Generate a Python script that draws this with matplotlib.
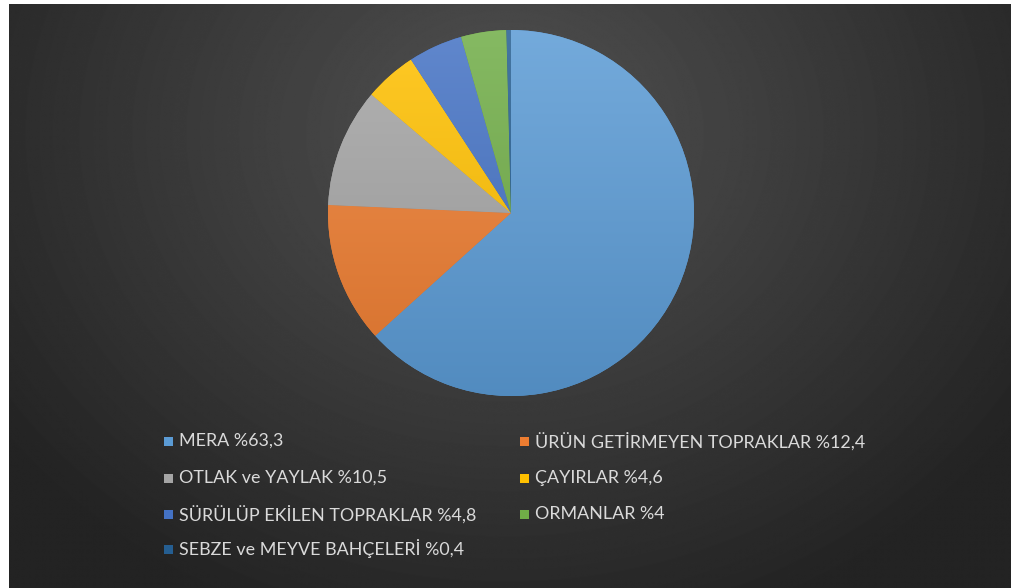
import numpy as np
import matplotlib.pyplot as plt
import matplotlib.colors as mcolors
from matplotlib.patches import Rectangle

labels = ['MERA %63,3', 'ÜRÜN GETİRMEYEN TOPRAKLAR %12,4', 'OTLAK ve YAYLAK %10,5',
          'ÇAYIRLAR %4,6', 'SÜRÜLÜP EKİLEN TOPRAKLAR %4,8', 'ORMANLAR %4',
          'SEBZE ve MEYVE BAHÇELERİ %0,4']
values = [63.3, 12.4, 10.5, 4.6, 4.8, 4.0, 0.4]
colors = ['#5B9BD5', '#ED7D31', '#A5A5A5', '#FFC000', '#4472C4', '#70AD47', '#255E91']

W, H = 1012, 588
fig = plt.figure(figsize=(W / 100, H / 100), dpi=100)
fig.patch.set_facecolor('white')
ax = fig.add_axes([0, 0, 1, 1])
ax.set_xlim(0, W)
ax.set_ylim(0, H)
ax.axis('off')

# dark radial background (white strip at left/top like the screenshot)
yy, xx = np.mgrid[0:H, 0:W]
r = np.sqrt(((xx - 500) / 620.0) ** 2 + ((yy - 130) / 520.0) ** 2)
shade = np.clip(0.32 - 0.18 * r, 0.14, 0.32)
ax.imshow(shade, cmap='gray', vmin=0, vmax=1, extent=(9, W, 0, H - 4),
          origin='upper', aspect='auto', zorder=0, interpolation='bilinear')

cx, cy, rad = 511, H - 213, 183
wedges, _ = ax.pie(values, colors=colors, startangle=90, counterclock=False,
                   center=(cx, cy), radius=rad, frame=False,
                   wedgeprops=dict(linewidth=0))
ax.set_xlim(0, W)
ax.set_ylim(0, H)
ax.set_aspect('auto')

# soft vertical gradient inside each slice
grad = np.linspace(0, 1, 256).reshape(-1, 1)
for w, c in zip(wedges, colors):
    base = np.array(mcolors.to_rgb(c))
    top = base + (1 - base) * 0.15
    bot = base * 0.9
    img = top * (1 - grad[..., None]) + bot * grad[..., None]
    img = np.repeat(img, 2, axis=1)
    im = ax.imshow(img, extent=(cx - rad, cx + rad, cy - rad, cy + rad),
                   origin='upper', aspect='auto', zorder=2)
    im.set_clip_path(w)
    w.set_zorder(1)

# legend, two columns, row-major order
col_x = [164, 520]
row_y = [441, 478, 514, 549]
for i, (lab, c) in enumerate(zip(labels, colors)):
    x0 = col_x[i % 2]
    y0 = H - row_y[i // 2]
    ax.add_patch(Rectangle((x0, y0 - 4.5), 9, 9, facecolor=c, edgecolor='none', zorder=3))
    ax.text(x0 + 15, y0, lab, color='#DADADA', fontsize=12.9, family='Lato',
            va='center', ha='left', zorder=3)

fig.savefig('out.png', dpi=100, facecolor='white')
